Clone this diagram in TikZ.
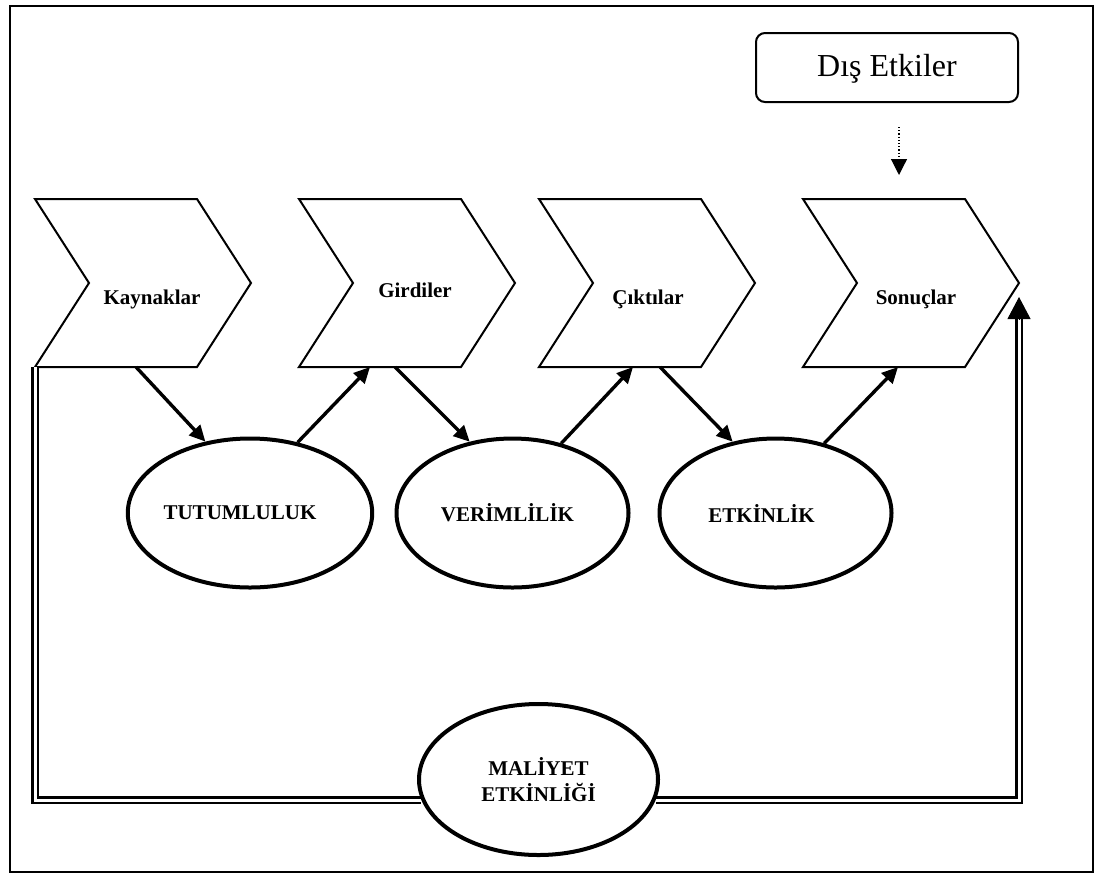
\documentclass[tikz,border=0pt]{standalone}
\usepackage{fontspec}
\setmainfont{Liberation Serif}
\usetikzlibrary{arrows.meta,calc,shapes.geometric}

\begin{document}
\begin{tikzpicture}[x=1pt,y=-1pt,
  frame/.style={line width=2.4pt},
  chev/.style={line width=2pt, line join=miter},
  chevtext/.style={font=\bfseries\fontsize{21}{25}\selectfont, anchor=base, inner sep=0pt},
  oval/.style={ellipse, draw, line width=4pt, minimum width=232pt, minimum height=149pt,
    inner sep=0pt, font=\bfseries\fontsize{21}{26}\selectfont, align=center},
  flow/.style={line width=3.4pt, -{Triangle[length=16pt,width=15pt]}},
  dbl/.style={double, double distance=3pt, line width=2.2pt},
  disbox/.style={draw, rounded corners=9pt, line width=2pt, minimum width=262pt,
    minimum height=69pt, inner sep=0pt, font=\fontsize{32}{38}\selectfont,
    text height=21pt, text depth=4pt}]

\useasboundingbox (0,0) rectangle (1102,873);

% outer frame
\draw[frame] (10,6) rectangle (1093,872);

% external influences box and its dotted arrow
\node[disbox] (dis) at (887,67.5) {Dış Etkiler};
\coordinate (ext-a) at ($(dis.south)+(12,24)$);
\coordinate (ext-b) at ($(dis.south)+(12,72)$);
\draw[dotted, line width=1.2pt, -{Triangle[length=16pt,width=16pt]}] (ext-a) -- (ext-b);

% the four process chevrons
\foreach \n/\x/\t/\tx/\ty in {kay/35/Kaynaklar/152/304, gir/299/Girdiler/415/297,
                               cik/539/Çıktılar/648/304, son/803/Sonuçlar/916/304} {
  \draw[chev] (\x,199) coordinate (\n-tl) -- ++(162,0) coordinate (\n-tr)
    -- ++(54,84) coordinate (\n-tip) -- ++(-54,84) coordinate (\n-br)
    -- ++(-162,0) coordinate (\n-bl) -- ++(54,-84) coordinate (\n-notch) -- cycle;
  \node[chevtext] (\n) at (\tx,\ty) {\t};
}

% performance measures
\node[oval] (tut) at (250,513) {TUTUMLULUK\hspace*{20pt}};
\node[oval] (ver) at (512.5,513) {VERİMLİLİK\hspace*{10pt}};
\node[oval] (etk) at (775.5,513) {ETKİNLİK\hspace*{28pt}};
\node[oval, minimum width=239pt, minimum height=151pt] (mal) at (538.5,779.5) {MALİYET\\ETKİNLİĞİ};

% links between chevrons and measures
\draw[flow] ($(kay-bl)+(101,0)$) -- (tut.122);
\draw[flow] (tut.56) -- ($(gir-bl)+(71,0)$);
\draw[flow] ($(gir-bl)+(96,0)$) -- (ver.121);
\draw[flow] (ver.55) -- ($(cik-bl)+(94,0)$);
\draw[flow] ($(cik-bl)+(121,0)$) -- (etk.121);
\draw[flow] (etk.55) -- ($(son-bl)+(95,0)$);

% cost-effectiveness loop
\coordinate (loop-end) at ($(son-tip)+(0,36)$);
\draw[dbl] (kay-bl) -- (kay-bl |- mal.190) -- (mal.190);
\draw[dbl] (mal.350) -| (loop-end);
\draw[line width=1pt, -{Triangle[length=22pt,width=23pt]}] (loop-end) -- ($(son-tip)+(0,14)$);
\end{tikzpicture}
\end{document}
